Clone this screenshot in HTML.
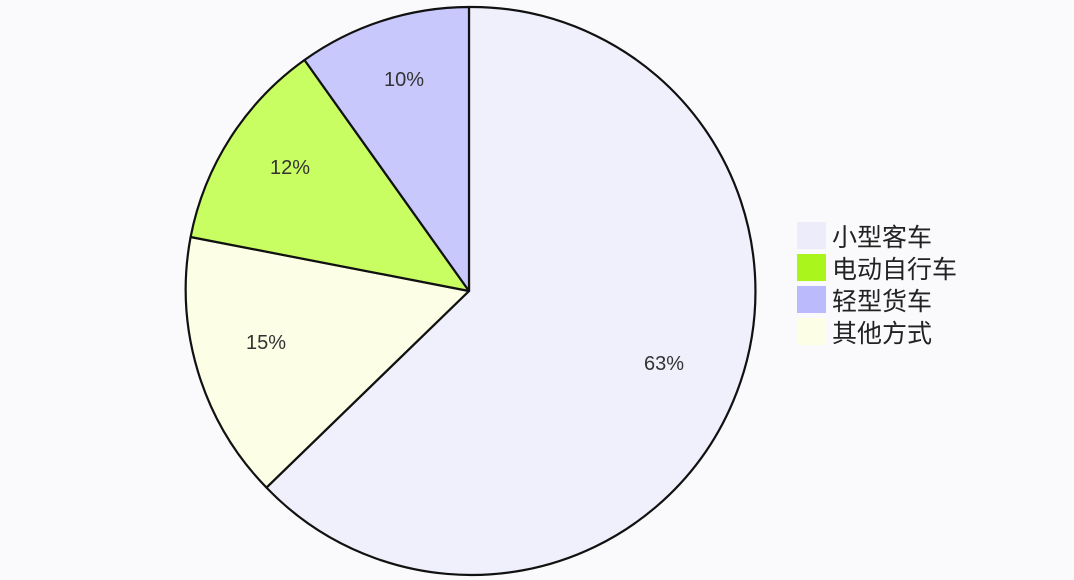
<!DOCTYPE html>
<html><head><meta charset="utf-8"><style>
html,body{margin:0;padding:0;background:#fafafc;}
svg{display:block;}
text{font-family:"Liberation Sans","Noto Sans CJK SC",sans-serif;}
</style></head><body>
<svg width="1074" height="580" viewBox="0 0 1074 580">
<rect width="1074" height="580" fill="#fafafc"/>
<g stroke="#111" stroke-width="2.2" stroke-linejoin="round">
<path d="M469,291 L469,7 A284,284 0 1 1 266.5,487.6 Z" fill="#f0f0fd"/>
<path d="M469,291 L266.5,487.6 A284,284 0 0 1 190.6,237.0 Z" fill="#fdfee6"/>
<path d="M469,291 L190.6,237.0 A284,284 0 0 1 304.5,60.0 Z" fill="#c8fe62"/>
<path d="M469,291 L304.5,60.0 A284,284 0 0 1 469,7 Z" fill="#c8c8fd"/>
</g>
<g font-size="20" fill="#333" text-anchor="middle">
<text x="664" y="370">63%</text>
<text x="266" y="349">15%</text>
<text x="290" y="174">12%</text>
<text x="404" y="86">10%</text>
</g>
<rect x="797" y="222" width="29" height="27" fill="#ececfb"/>
<rect x="797" y="254" width="29" height="27" fill="#aaf61c"/>
<rect x="797" y="286" width="29" height="27" fill="#babafd"/>
<rect x="797" y="318" width="29" height="27" fill="#fdfee6"/>
<g font-size="25" fill="#222">
<text x="832" y="246">小型客车</text>
<text x="832" y="278">电动自行车</text>
<text x="832" y="310">轻型货车</text>
<text x="832" y="342">其他方式</text>
</g>
</svg>
</body></html>
